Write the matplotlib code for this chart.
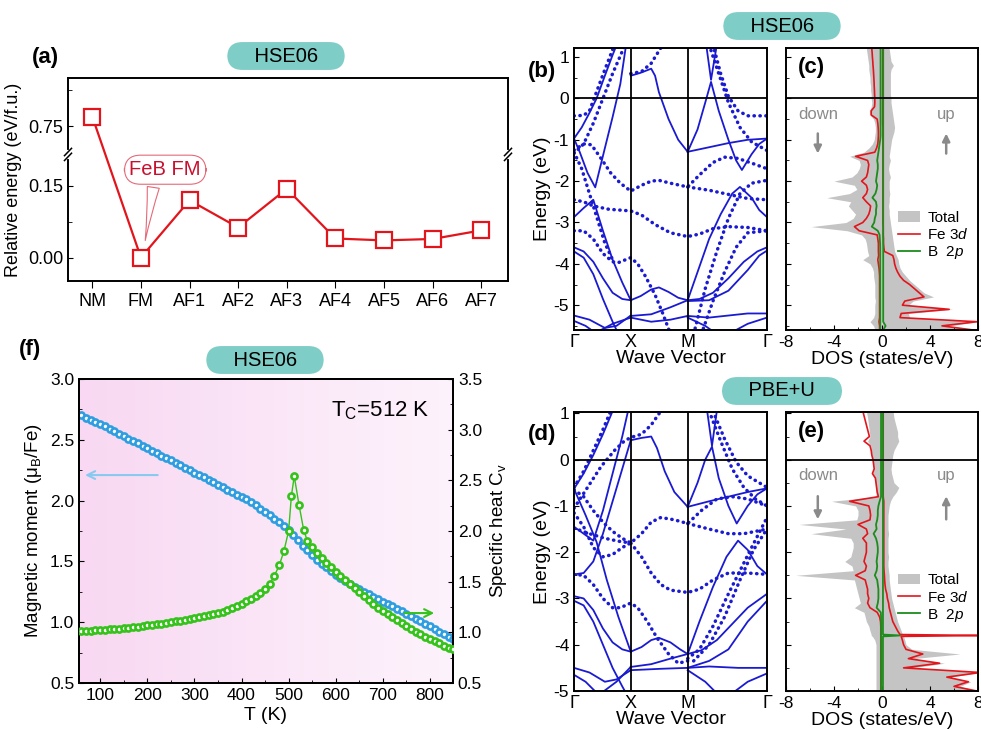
import numpy as np
import matplotlib
matplotlib.use('Agg')
import matplotlib.pyplot as plt
from matplotlib.ticker import MultipleLocator, FixedLocator
from matplotlib.patches import Patch
from matplotlib.lines import Line2D
from matplotlib.colors import LinearSegmentedColormap

plt.rcParams['font.family'] = ['Liberation Sans', 'DejaVu Sans']
plt.rcParams['mathtext.fontset'] = 'custom'
plt.rcParams['mathtext.rm'] = 'Liberation Sans'
plt.rcParams['mathtext.it'] = 'Liberation Sans:italic'
plt.rcParams['axes.unicode_minus'] = False
plt.rcParams['axes.linewidth'] = 1.4

# ---------------- (a) relative energies ----------------
configs = ['NM', 'FM', 'AF1', 'AF2', 'AF3', 'AF4', 'AF5', 'AF6', 'AF7']
rel_energy = [0.77, 0.0, 0.12, 0.063, 0.144, 0.040, 0.036, 0.039, 0.057]

# ---------------- (b)/(d) band structures (k as path fraction, E in eV) ----------------
k_nodes = [0.0, 0.294, 0.589, 1.0]
k_labels = ['Γ', 'X', 'M', 'Γ']

hse_solid = [
    [(0, -0.97), (0.04, -0.7), (0.08, -0.35), (0.117, 0.0), (0.16, 0.55), (0.20, 1.05), (0.23, 1.4)],
    [(0, -0.97), (0.03, -1.3), (0.07, -1.8), (0.11, -2.15), (0.16, -1.2), (0.20, -0.45), (0.24, 0.35), (0.27, 1.3)],
    [(0, -2.87), (0.05, -2.65), (0.10, -2.45), (0.15, -3.2), (0.20, -3.9), (0.25, -4.45), (0.294, -4.88)],
    [(0, -3.6), (0.05, -3.7), (0.10, -3.95), (0.15, -4.35), (0.20, -4.7), (0.25, -4.85), (0.294, -4.88)],
    [(0, -3.7), (0.05, -3.85), (0.10, -4.25), (0.15, -4.85), (0.20, -5.4), (0.23, -5.7)],
    [(0, -5.25), (0.08, -5.35), (0.16, -5.55), (0.22, -5.5), (0.294, -5.25)],
    [(0, -5.38), (0.06, -5.5), (0.12, -5.7)],
    [(0.10, -5.7), (0.20, -5.45), (0.294, -5.3)],
    [(0.294, 0.55), (0.345, 0.62), (0.40, 0.72), (0.42, 0.55), (0.44, 0.15), (0.49, -0.5), (0.54, -1.0), (0.589, -1.29)],
    [(0.294, -4.88), (0.345, -4.78), (0.40, -4.62), (0.44, -4.57), (0.49, -4.68), (0.54, -4.82), (0.589, -4.88)],
    [(0.294, -5.26), (0.40, -5.22), (0.50, -5.05), (0.589, -4.88)],
    [(0.294, -5.3), (0.40, -5.4), (0.50, -5.35), (0.589, -5.26)],
    [(0.589, -1.29), (0.64, -0.75), (0.68, -0.1), (0.71, 0.4), (0.75, -0.3), (0.80, -1.0), (0.84, -1.5),
     (0.87, -1.73), (0.92, -1.35), (0.96, -1.1), (1.0, -0.97)],
    [(0.685, 1.3), (0.71, 0.45), (0.74, 1.3)],
    [(0.589, -1.29), (0.70, -1.18), (0.80, -1.08), (0.90, -1.0), (1.0, -0.97)],
    [(0.589, -4.88), (0.64, -4.2), (0.70, -3.4), (0.76, -2.8), (0.82, -2.3), (0.86, -2.14), (0.92, -2.4),
     (0.96, -2.7), (1.0, -2.87)],
    [(0.589, -4.88), (0.65, -4.85), (0.72, -4.7), (0.80, -4.35), (0.88, -3.95), (0.95, -3.7), (1.0, -3.6)],
    [(0.589, -4.9), (0.70, -4.88), (0.80, -4.65), (0.90, -4.15), (0.96, -3.8), (1.0, -3.68)],
    [(0.589, -5.26), (0.70, -5.3), (0.80, -5.25), (0.90, -5.2), (1.0, -5.2)],
    [(0.589, -5.3), (0.68, -5.5), (0.74, -5.7)],
    [(0.80, -5.7), (0.90, -5.45), (1.0, -5.3)],
]
hse_dotted = [
    [(0, -0.42), (0.05, -0.41), (0.08, -0.3), (0.12, 0.2), (0.16, 0.7), (0.21, 1.3)],
    [(0, -1.33), (0.05, -1.1), (0.10, -0.6), (0.15, 0.0), (0.20, 0.6), (0.265, 1.3)],
    [(0, -1.25), (0.05, -1.1), (0.09, -1.12), (0.14, -1.45), (0.19, -1.8), (0.24, -2.05), (0.294, -2.24),
     (0.35, -2.1), (0.40, -2.0), (0.44, -1.98), (0.50, -2.05), (0.589, -2.14), (0.65, -1.85), (0.72, -1.55),
     (0.78, -1.42), (0.85, -1.45), (0.93, -1.58), (1.0, -1.7)],
    [(0, -2.45), (0.05, -2.5), (0.10, -2.6), (0.18, -2.68), (0.294, -2.72), (0.35, -2.82), (0.42, -3.05),
     (0.50, -3.25), (0.589, -3.34), (0.65, -3.28), (0.72, -3.15), (0.80, -3.1), (0.90, -3.12), (1.0, -3.2)],
    [(0, -3.2), (0.05, -3.2), (0.10, -3.4), (0.15, -3.75), (0.20, -3.95), (0.23, -3.97), (0.294, -3.85),
     (0.33, -4.0), (0.37, -4.3), (0.42, -4.75), (0.46, -5.2), (0.50, -5.7)],
    [(0, -1.3), (0.04, -1.7), (0.08, -2.3), (0.12, -2.9), (0.16, -3.5), (0.20, -3.9)],
    [(0.589, -2.14), (0.70, -2.22), (0.80, -2.32), (0.90, -2.42), (1.0, -2.45)],
    [(0.62, -5.7), (0.68, -4.6), (0.74, -3.7), (0.80, -2.9), (0.86, -2.3), (0.92, -2.05), (1.0, -1.98)],
    [(0.66, -5.7), (0.72, -4.9), (0.78, -4.2), (0.84, -3.6), (0.90, -3.25), (1.0, -3.2)],
    [(0.70, 1.3), (0.75, 0.6), (0.80, -0.1), (0.86, -0.7), (0.92, -1.05), (1.0, -1.26)],
    [(0.72, 1.3), (0.76, 0.6), (0.80, 0.05), (0.85, -0.3), (0.90, -0.42), (1.0, -0.42)],
    [(0.294, 0.6), (0.35, 0.65), (0.40, 0.85), (0.46, 1.3)],
]

pbe_solid = [
    [(0, -0.63), (0.05, -0.3), (0.10, 0.1), (0.15, 0.55), (0.20, 1.05)],
    [(0, -0.63), (0.06, -1.2), (0.117, -1.78), (0.17, -2.6), (0.23, -3.4), (0.294, -4.15)],
    [(0, -1.45), (0.05, -1.6), (0.10, -1.75), (0.15, -1.1), (0.20, -0.3), (0.25, 0.5), (0.28, 1.05)],
    [(0, -2.48), (0.05, -2.45), (0.10, -2.2), (0.15, -1.6), (0.20, -0.9), (0.25, -0.2), (0.294, 0.42)],
    [(0, -2.95), (0.05, -3.0), (0.10, -3.25), (0.15, -3.65), (0.20, -3.95), (0.25, -4.1), (0.294, -4.15)],
    [(0, -3.05), (0.05, -3.15), (0.10, -3.5), (0.15, -4.0), (0.20, -4.5), (0.25, -4.9), (0.27, -5.05)],
    [(0, -4.5), (0.08, -4.6), (0.16, -4.8), (0.22, -4.75), (0.294, -4.55)],
    [(0, -4.65), (0.06, -4.8), (0.12, -5.05)],
    [(0.14, -5.05), (0.22, -4.8), (0.294, -4.48)],
    [(0.294, 0.42), (0.35, 0.47), (0.40, 0.5), (0.43, 0.25), (0.47, -0.25), (0.52, -0.7), (0.589, -1.02)],
    [(0.294, -4.15), (0.35, -4.05), (0.40, -3.9), (0.44, -3.85), (0.50, -3.95), (0.55, -4.1), (0.589, -4.2)],
    [(0.294, -4.48), (0.40, -4.42), (0.50, -4.3), (0.589, -4.2)],
    [(0.294, -4.55), (0.45, -4.52), (0.589, -4.5)],
    [(0.589, -1.02), (0.64, -0.5), (0.68, 0.0), (0.715, 0.28), (0.75, -0.4), (0.80, -1.0), (0.843, -1.38),
     (0.90, -1.0), (0.95, -0.75), (1.0, -0.62)],
    [(0.69, 1.05), (0.715, 0.3), (0.74, 1.05)],
    [(0.589, -1.02), (0.70, -0.9), (0.80, -0.8), (0.90, -0.7), (1.0, -0.62)],
    [(0.589, -4.2), (0.65, -3.5), (0.72, -2.75), (0.79, -2.1), (0.85, -1.75), (0.90, -1.95), (0.95, -2.3),
     (1.0, -2.48)],
    [(0.589, -4.2), (0.66, -4.12), (0.74, -3.9), (0.82, -3.55), (0.90, -3.2), (1.0, -2.9)],
    [(0.589, -4.5), (0.70, -4.35), (0.80, -4.1), (0.90, -3.5), (1.0, -3.05)],
    [(0.589, -4.5), (0.70, -4.47), (0.85, -4.5), (1.0, -4.5)],
    [(0.589, -4.55), (0.68, -4.8), (0.74, -5.05)],
    [(0.82, -5.05), (0.90, -4.8), (1.0, -4.62)],
]
pbe_dotted = [
    [(0, -1.05), (0.07, -0.6), (0.14, -0.15), (0.21, 0.2), (0.26, 0.4), (0.294, 0.48), (0.35, 0.55),
     (0.40, 0.75), (0.45, 1.05)],
    [(0, -0.6), (0.05, -0.25), (0.10, 0.2), (0.15, 0.65), (0.19, 1.05)],
    [(0, -0.65), (0.05, -0.8), (0.10, -1.1), (0.15, -1.35), (0.20, -1.55), (0.25, -1.7), (0.294, -1.8),
     (0.35, -1.6), (0.40, -1.35), (0.45, -1.25), (0.52, -1.3), (0.589, -1.38), (0.66, -1.1), (0.74, -0.85),
     (0.82, -0.8), (0.90, -0.85), (1.0, -1.0)],
    [(0.589, -1.38), (0.70, -1.5), (0.80, -1.6), (0.88, -1.6), (1.0, -1.5)],
    [(0, -1.48), (0.08, -1.6), (0.16, -1.7), (0.24, -1.77), (0.294, -1.8), (0.35, -2.1), (0.40, -2.45),
     (0.45, -2.7), (0.50, -2.82), (0.589, -2.87), (0.65, -2.8), (0.72, -2.6), (0.80, -2.45), (0.90, -2.45),
     (1.0, -2.48)],
    [(0, -1.15), (0.05, -1.45), (0.10, -1.9), (0.15, -2.1), (0.20, -2.05), (0.25, -1.9), (0.294, -1.8)],
    [(0, -2.48), (0.05, -2.5), (0.10, -2.7), (0.15, -3.0), (0.20, -3.2), (0.24, -3.2), (0.294, -3.1),
     (0.33, -3.2), (0.38, -3.5), (0.43, -3.85), (0.49, -4.2), (0.54, -4.4), (0.589, -4.35)],
    [(0.589, -4.3), (0.65, -4.1), (0.72, -3.6), (0.80, -2.9), (0.86, -2.4), (0.92, -1.9), (1.0, -1.25)],
    [(0.62, -4.35), (0.70, -4.0), (0.78, -3.4), (0.86, -2.6), (0.93, -1.95), (1.0, -1.5)],
    [(0.72, 1.05), (0.78, 0.45), (0.84, -0.05), (0.90, -0.35), (1.0, -0.6)],
    [(0.70, 1.05), (0.76, 0.4), (0.82, -0.2), (0.88, -0.6), (0.94, -0.85), (1.0, -1.0)],
]

# ---------------- (c) DOS, HSE06 ----------------
dos_e_c = [1.3, 1.2, 1.1, 1.0, 0.9, 0.8, 0.7, 0.6, 0.5, 0.4,
           0.3, 0.2, 0.1, 0.0, -0.1, -0.2, -0.3, -0.4, -0.5, -0.6,
           -0.7, -0.8, -0.9, -1.0, -1.1, -1.2, -1.3, -1.4, -1.5, -1.6,
           -1.7, -1.8, -1.9, -2.0, -2.1, -2.2, -2.3, -2.4, -2.5, -2.6,
           -2.7, -2.8, -2.9, -3.0, -3.1, -3.2, -3.3, -3.4, -3.5, -3.6,
           -3.7, -3.8, -3.9, -4.0, -4.1, -4.2, -4.3, -4.4, -4.5, -4.6,
           -4.7, -4.8, -4.9, -5.0, -5.1, -5.2, -5.3, -5.4, -5.5, -5.6,
           -5.7]
tot_up_c = [0.6, 0.6, 0.65, 0.7, 0.75, 0.95, 0.75, 0.7, 0.7, 0.7,
            0.7, 0.7, 0.7, 0.75, 0.75, 0.8, 0.85, 0.9, 0.95, 1.0,
            1.05, 1.0, 0.9, 0.8, 0.75, 0.7, 0.65, 0.6, 0.7, 0.6,
            0.55, 0.6, 0.7, 0.6, 0.6, 0.6, 0.65, 0.6, 0.6, 0.55,
            0.6, 0.6, 0.65, 0.7, 0.75, 0.8, 0.85, 0.9, 0.95, 1.0,
            1.05, 1.2, 1.35, 1.4, 1.5, 1.7, 2.0, 2.3, 2.7, 3.1,
            3.5, 4.3, 2.6, 2.2, 5.9, 2.2, 2.3, 8.0, 5.6, 7.9,
            6.5]
tot_dn_c = [-1.3, -1.3, -1.25, -1.2, -1.15, -1.1, -1.1, -1.05, -1.0, -1.0,
            -0.95, -0.95, -0.9, -0.9, -0.85, -0.9, -1.05, -1.0, -0.7, -0.6,
            -0.55, -0.55, -0.6, -0.65, -0.8, -1.1, -1.5, -2.7, -1.9, -1.8,
            -1.9, -2.1, -2.5, -4.0, -2.3, -2.1, -2.7, -4.6, -2.6, -2.8,
            -2.5, -2.2, -2.4, -3.0, -5.9, -2.9, -1.7, -1.4, -1.3, -1.25,
            -1.2, -1.1, -1.6, -1.0, -0.8, -0.7, -0.7, -0.65, -0.6, -0.6,
            -0.6, -0.6, -0.55, -0.6, -0.6, -0.6, -0.7, -1.0, -0.7, -0.6,
            -0.6]
fe_up_c = [0.06, 0.06, 0.06, 0.06, 0.06, 0.06, 0.06, 0.06, 0.06, 0.06,
           0.06, 0.06, 0.06, 0.06, 0.06, 0.06, 0.06, 0.06, 0.06, 0.06,
           0.08, 0.08, 0.08, 0.08, 0.08, 0.08, 0.08, 0.08, 0.08, 0.08,
           0.08, 0.08, 0.08, 0.08, 0.08, 0.08, 0.08, 0.08, 0.08, 0.08,
           0.08, 0.08, 0.08, 0.08, 0.1, 0.1, 0.1, 0.12, 0.12, 0.15,
           0.2, 0.9, 1.0, 1.05, 1.15, 1.3, 1.5, 1.8, 2.3, 2.7,
           3.1, 3.5, 1.9, 1.7, 5.6, 1.6, 1.5, 7.9, 5.0, 7.6,
           5.5]
fe_dn_c = [-0.85, -0.85, -0.82, -0.8, -0.77, -0.75, -0.72, -0.7, -0.68, -0.66,
           -0.65, -0.63, -0.62, -0.6, -0.6, -0.62, -0.9, -0.9, -0.4, -0.35,
           -0.32, -0.3, -0.3, -0.32, -0.35, -0.45, -0.6, -2.2, -1.2, -1.1,
           -1.15, -1.2, -1.3, -1.7, -1.3, -1.2, -1.3, -1.6, -1.3, -0.95,
           -1.0, -1.1, -1.3, -1.6, -2.3, -1.9, -0.4, -0.35, -0.3, -0.3,
           -0.3, -0.28, -0.35, -0.3, -0.25, -0.22, -0.2, -0.2, -0.2, -0.2,
           -0.2, -0.2, -0.2, -0.2, -0.2, -0.2, -0.2, -0.25, -0.2, -0.2,
           -0.2]
b_up_c = [0.1, 0.1, 0.1, 0.1, 0.1, 0.1, 0.1, 0.1, 0.1, 0.1,
          0.1, 0.1, 0.1, 0.1, 0.1, 0.1, 0.1, 0.1, 0.1, 0.1,
          0.1, 0.1, 0.1, 0.1, 0.1, 0.1, 0.1, 0.1, 0.1, 0.1,
          0.1, 0.1, 0.1, 0.1, 0.1, 0.1, 0.1, 0.1, 0.1, 0.1,
          0.1, 0.1, 0.1, 0.1, 0.1, 0.1, 0.1, 0.1, 0.1, 0.1,
          0.1, 0.1, 0.1, 0.1, 0.1, 0.1, 0.1, 0.1, 0.1, 0.1,
          0.1, 0.1, 0.1, 0.1, 0.1, 0.1, 0.1, 0.1, 0.3, 0.1,
          0.1]
b_dn_c = [-0.12, -0.12, -0.12, -0.12, -0.12, -0.12, -0.12, -0.12, -0.12, -0.12,
          -0.12, -0.12, -0.12, -0.12, -0.12, -0.12, -0.12, -0.12, -0.12, -0.12,
          -0.12, -0.12, -0.12, -0.15, -0.2, -0.25, -0.3, -0.35, -0.4, -0.35,
          -0.35, -0.4, -0.45, -0.5, -0.4, -0.45, -0.55, -0.8, -0.5, -0.45,
          -0.5, -0.5, -0.6, -0.65, -0.85, -0.35, -0.2, -0.18, -0.16, -0.15,
          -0.15, -0.15, -0.15, -0.15, -0.15, -0.15, -0.15, -0.15, -0.15, -0.15,
          -0.15, -0.15, -0.15, -0.15, -0.15, -0.15, -0.15, -0.15, -0.15, -0.15,
          -0.15]

# ---------------- (e) DOS, PBE+U ----------------
dos_e_e = [1.1, 1.0, 0.9, 0.8, 0.7, 0.6, 0.5, 0.4, 0.3, 0.2,
           0.1, 0.0, -0.1, -0.2, -0.3, -0.4, -0.5, -0.6, -0.7, -0.8,
           -0.9, -1.0, -1.1, -1.2, -1.3, -1.4, -1.5, -1.6, -1.7, -1.8,
           -1.9, -2.0, -2.1, -2.2, -2.3, -2.4, -2.5, -2.6, -2.7, -2.8,
           -2.9, -3.0, -3.1, -3.2, -3.3, -3.4, -3.5, -3.6, -3.7, -3.78,
           -3.8, -3.82, -3.9, -4.0, -4.1, -4.2, -4.3, -4.4, -4.5, -4.6,
           -4.7, -4.8, -4.9, -5.0, -5.1]
tot_up_e = [0.9, 0.95, 1.0, 1.1, 1.2, 1.3, 1.3, 1.4, 1.2, 1.0,
            0.9, 0.85, 0.8, 0.75, 0.8, 0.9, 1.0, 1.4, 1.2, 0.9,
            0.7, 0.6, 0.55, 0.5, 0.5, 0.5, 0.5, 0.55, 0.5, 0.5,
            0.5, 0.5, 0.55, 0.5, 0.5, 0.55, 0.6, 0.6, 0.65, 0.7,
            0.75, 0.8, 0.9, 1.0, 1.1, 1.2, 1.3, 1.45, 1.6, 1.7,
            1.75, 1.8, 1.9, 2.0, 2.5, 6.5, 2.6, 5.2, 2.5, 8.2,
            5.6, 7.4, 6.5, 8.0, 7.0]
tot_dn_e = [-1.3, -1.27, -1.2, -1.15, -1.1, -1.05, -1.0, -1.2, -0.95, -0.9,
            -0.85, -0.75, -0.7, -0.65, -0.8, -0.6, -0.55, -0.55, -0.5, -0.5,
            -4.2, -2.2, -2.0, -2.0, -2.1, -6.9, -3.0, -5.9, -2.6, -2.4,
            -2.4, -2.5, -2.6, -3.1, -2.5, -2.4, -7.2, -2.3, -2.2, -2.1,
            -2.0, -1.9, -1.8, -2.3, -1.5, -1.4, -1.3, -1.1, -1.0, -0.9,
            -0.9, -0.8, -0.6, -0.5, -0.5, -0.5, -0.5, -0.5, -0.5, -0.5,
            -0.5, -0.5, -0.5, -0.5, -0.5]
fe_up_e = [0.1, 0.1, 0.1, 0.1, 0.1, 0.1, 0.1, 0.1, 0.1, 0.1,
           0.1, 0.1, 0.1, 0.1, 0.1, 0.1, 0.1, 0.1, 0.1, 0.1,
           0.15, 0.15, 0.15, 0.15, 0.15, 0.15, 0.15, 0.15, 0.15, 0.15,
           0.15, 0.15, 0.15, 0.15, 0.15, 0.17, 0.2, 0.22, 0.25, 0.3,
           0.4, 0.45, 0.55, 0.6, 0.7, 0.8, 0.9, 1.1, 1.3, 1.5,
           8.5, 1.6, 1.7, 1.8, 2.0, 3.4, 2.2, 4.8, 1.8, 8.2,
           5.4, 7.2, 6.0, 7.9, 6.5]
fe_dn_e = [-1.6, -1.55, -1.45, -1.35, -1.25, -1.15, -1.05, -1.5, -1.0, -0.9,
           -0.85, -0.75, -0.7, -0.65, -0.8, -0.55, -0.5, -0.45, -0.4, -0.3,
           -2.7, -1.1, -1.0, -0.95, -1.0, -2.0, -1.3, -1.2, -1.6, -1.3,
           -1.3, -1.3, -1.4, -1.5, -1.3, -1.4, -2.2, -1.4, -1.3, -1.2,
           -1.2, -1.1, -1.2, -1.0, -0.4, -0.2, -0.12, -0.1, -0.1, -0.1,
           -0.1, -0.1, -0.1, -0.1, -0.1, -0.1, -0.1, -0.1, -0.1, -0.1,
           -0.1, -0.1, -0.1, -0.1, -0.1]
b_up_e = [0.08, 0.08, 0.08, 0.08, 0.08, 0.08, 0.08, 0.08, 0.08, 0.08,
          0.08, 0.08, 0.08, 0.08, 0.08, 0.08, 0.08, 0.08, 0.08, 0.08,
          0.08, 0.08, 0.08, 0.08, 0.08, 0.08, 0.08, 0.08, 0.08, 0.08,
          0.08, 0.08, 0.08, 0.08, 0.08, 0.08, 0.08, 0.08, 0.08, 0.08,
          0.08, 0.08, 0.08, 0.08, 0.08, 0.08, 0.08, 0.08, 0.08, 0.08,
          1.5, 0.08, 0.08, 0.08, 0.08, 0.08, 0.08, 0.08, 0.08, 0.08,
          0.08, 0.08, 0.08, 0.08, 0.08]
b_dn_e = [-0.08, -0.08, -0.08, -0.08, -0.08, -0.08, -0.08, -0.08, -0.08, -0.08,
          -0.08, -0.08, -0.08, -0.08, -0.08, -0.08, -0.08, -0.08, -0.08, -0.08,
          -0.2, -0.3, -0.35, -0.35, -0.4, -0.5, -0.45, -0.7, -0.5, -0.4,
          -0.35, -0.35, -0.4, -0.45, -0.4, -0.45, -0.6, -0.4, -0.35, -0.3,
          -0.3, -0.3, -0.35, -0.45, -0.1, -0.08, -0.08, -0.08, -0.08, -0.08,
          -0.08, -0.08, -0.08, -0.08, -0.08, -0.08, -0.08, -0.08, -0.08, -0.08,
          -0.08, -0.08, -0.08, -0.08, -0.08]

# ---------------- (f) magnetic moment and specific heat ----------------
temp_m = list(range(60, 860, 10))
moment = [2.70, 2.68, 2.66, 2.645, 2.63, 2.61, 2.59, 2.57, 2.55, 2.53,
          2.51, 2.49, 2.47, 2.45, 2.43, 2.41, 2.39, 2.37, 2.35, 2.33,
          2.31, 2.29, 2.27, 2.25, 2.23, 2.21, 2.19, 2.17, 2.15, 2.13,
          2.11, 2.09, 2.07, 2.05, 2.03, 2.01, 1.985, 1.96, 1.935, 1.91,
          1.88, 1.85, 1.82, 1.79, 1.755, 1.72, 1.68, 1.63, 1.59, 1.55,
          1.515, 1.48, 1.45, 1.42, 1.39, 1.365, 1.34, 1.315, 1.29, 1.27,
          1.25, 1.23, 1.21, 1.19, 1.17, 1.15, 1.13, 1.11, 1.09, 1.07,
          1.05, 1.03, 1.01, 0.985, 0.965, 0.94, 0.92, 0.90, 0.88, 0.86]
temp_c = list(range(60, 490, 10)) + [490, 500, 506, 512, 522, 532, 540] + list(range(550, 860, 10))
heat = [1.012, 1.015, 1.017, 1.02, 1.023, 1.026, 1.03, 1.033, 1.037, 1.04,
        1.045, 1.05, 1.055, 1.06, 1.07, 1.075, 1.08, 1.087, 1.093, 1.10,
        1.107, 1.115, 1.123, 1.132, 1.14, 1.15, 1.16, 1.17, 1.18, 1.19,
        1.205, 1.22, 1.24, 1.26, 1.28, 1.305, 1.33, 1.36, 1.39, 1.43,
        1.48, 1.56, 1.66,
        1.80, 2.00, 2.35, 2.54, 2.26, 2.01, 1.90,
        1.84, 1.78, 1.73, 1.68, 1.64, 1.60, 1.56, 1.52, 1.48, 1.44,
        1.40, 1.36, 1.32, 1.28, 1.245, 1.21, 1.18, 1.15, 1.12, 1.09,
        1.06, 1.03, 1.005, 0.98, 0.955, 0.93, 0.91, 0.89, 0.87, 0.85, 0.835]

# colours
red = '#e3151c'
band_blue = '#1a1ad2'
gray_fill = '#c4c4c4'
b_green = '#1c8c1c'
pill_col = '#7fcdc7'
W, H = 981, 729


def fig_rect(x0, y0, x1, y1):
    return [x0 / W, 1 - y1 / H, (x1 - x0) / W, (y1 - y0) / H]


def pill(fig, x, y, text):
    fig.text(x / W, 1 - y / H, '    ' + text + '    ', ha='center', va='center', fontsize=14.5,
             bbox=dict(boxstyle='round,pad=0.22,rounding_size=0.75', fc=pill_col, ec='none'))


fig = plt.figure(figsize=(W / 100, H / 100), dpi=100)


# ---- (a) ----
def brk_fwd(v):
    v = np.asarray(v, float)
    return np.where(v > 0.45, v - 0.475, np.minimum(v, 0.216))


def brk_inv(w):
    w = np.asarray(w, float)
    return np.where(w > 0.216, w + 0.475, w)


axa = fig.add_axes(fig_rect(68, 78, 508, 281))
axa.set_yscale('function', functions=(brk_fwd, brk_inv))
xa = np.arange(len(configs))
axa.plot(xa, rel_energy, '-s', color=red, lw=1.6, ms=11, mfc='white', mec=red, mew=1.6, zorder=3)
axa.set_xlim(-0.5, 8.55)
axa.set_ylim(-0.049, 0.851)
axa.set_xticks(xa)
axa.set_xticklabels(configs)
axa.set_yticks([0.0, 0.15, 0.75])
axa.set_yticklabels(['0.00', '0.15', '0.75'])
axa.yaxis.set_minor_locator(FixedLocator([0.075, 0.825]))
axa.tick_params(axis='y', which='both', direction='in', labelsize=13)
axa.tick_params(axis='y', which='minor', length=3)
axa.tick_params(axis='x', direction='out', labelsize=13, length=5)
axa.set_ylabel('Relative energy (eV/f.u.)', fontsize=13)
axa.annotate('FeB FM', xy=(1.08, 0.03), xytext=(1.5, 0.184), ha='center', va='center',
             color='#c8102e', fontsize=14.5,
             bbox=dict(boxstyle='round,pad=0.25,rounding_size=0.8', fc='white', ec='#e46a78', lw=0.8),
             arrowprops=dict(arrowstyle='wedge,tail_width=0.6,shrink_factor=0.4', fc='white',
                             ec='#e46a78', lw=0.8, relpos=(0.35, 0.0)))
brk = 0.6235
for xs in (0.0, 1.0):
    axa.plot([xs, xs], [brk - 0.012, brk + 0.012], color='white', lw=3, transform=axa.transAxes,
             clip_on=False, zorder=6)
    for dy in (-0.012, 0.012):
        axa.plot([xs - 0.008, xs + 0.008], [brk + dy - 0.018, brk + dy + 0.018], color='k', lw=1.1,
                 transform=axa.transAxes, clip_on=False, zorder=7)
fig.text(45 / W, 1 - 57 / H, '(a)', fontsize=16, fontweight='bold', ha='center', va='center')
pill(fig, 286, 56, 'HSE06')


# ---- (b), (d) ----
def draw_bands(ax, solid, dotted, ylim):
    for band in solid:
        k, e = zip(*band)
        ax.plot(k, e, color=band_blue, lw=1.3)
    for band in dotted:
        k, e = zip(*band)
        ax.plot(k, e, color=band_blue, lw=2.5, ls=(0, (0.1, 1.6)), dash_capstyle='round')
    for kv in k_nodes[1:-1]:
        ax.axvline(kv, color='k', lw=1.3)
    ax.axhline(0, color='k', lw=1.3)
    ax.set_xlim(0, 1)
    ax.set_ylim(*ylim)
    ax.set_xticks(k_nodes)
    ax.set_xticklabels(k_labels)
    ax.tick_params(axis='x', length=0, labelsize=13, pad=3)
    ax.yaxis.set_major_locator(MultipleLocator(1))
    ax.yaxis.set_minor_locator(MultipleLocator(0.5))
    ax.tick_params(axis='y', which='both', direction='in', labelsize=12.5)
    ax.tick_params(axis='y', which='minor', length=2.5)
    ax.set_ylabel('Energy (eV)', fontsize=14, labelpad=2)
    ax.set_xlabel('Wave Vector', fontsize=14, labelpad=-1)


axb = fig.add_axes(fig_rect(574, 48, 767, 330))
draw_bands(axb, hse_solid, hse_dotted, (-5.6, 1.22))
fig.text(542 / W, 1 - 71 / H, '(b)', fontsize=16, fontweight='bold', ha='center', va='center')

axd = fig.add_axes(fig_rect(574, 412, 767, 691))
draw_bands(axd, pbe_solid, pbe_dotted, (-5.0, 1.03))
fig.text(542 / W, 1 - 435 / H, '(d)', fontsize=16, fontweight='bold', ha='center', va='center')


# ---- (c), (e) ----
def draw_dos(ax, e, tu, td, fu, fd, bu, bd, ylim, label, yspin):
    ax.fill_betweenx(e, 0, tu, color=gray_fill, lw=0)
    ax.fill_betweenx(e, 0, td, color=gray_fill, lw=0)
    ax.plot(fu, e, color=red, lw=1.2)
    ax.plot(fd, e, color=red, lw=1.2)
    ax.plot(bu, e, color=b_green, lw=1.3)
    ax.plot(bd, e, color=b_green, lw=1.3)
    ax.axhline(0, color='k', lw=1.3)
    ax.set_xlim(-8, 8)
    ax.set_ylim(*ylim)
    ax.xaxis.set_major_locator(MultipleLocator(4))
    ax.xaxis.set_minor_locator(MultipleLocator(2))
    ax.yaxis.set_major_locator(MultipleLocator(1))
    ax.yaxis.set_minor_locator(MultipleLocator(0.5))
    ax.tick_params(which='both', direction='in', labelsize=12.5)
    ax.tick_params(which='minor', length=2.5)
    ax.tick_params(axis='y', labelleft=False)
    ax.set_xlabel('DOS (states/eV)', fontsize=14, labelpad=1)
    ax.text(0.06, 0.93, label, transform=ax.transAxes, fontsize=16, fontweight='bold',
            ha='left', va='center')
    ax.text(-5.35, yspin, 'down', color='#8a8a8a', fontsize=12, ha='center', va='center')
    ax.text(5.35, yspin, 'up', color='#8a8a8a', fontsize=12, ha='center', va='center')
    ax.annotate('', xy=(-5.35, yspin - 1.0), xytext=(-5.35, yspin - 0.38),
                arrowprops=dict(arrowstyle='-|>', color='#8a8a8a', lw=1.8, mutation_scale=11))
    ax.annotate('', xy=(5.35, yspin - 0.38), xytext=(5.35, yspin - 1.0),
                arrowprops=dict(arrowstyle='-|>', color='#8a8a8a', lw=1.8, mutation_scale=11))
    handles = [Patch(facecolor=gray_fill, edgecolor='none'),
               Line2D([], [], color=red, lw=1.2),
               Line2D([], [], color=b_green, lw=1.3)]
    ax.legend(handles, ['Total', 'Fe 3$\\it{d}$', 'B  2$\\it{p}$'], loc='upper right',
              bbox_to_anchor=(1.0, 0.455), frameon=False, fontsize=11, handlelength=1.4,
              handletextpad=0.5, labelspacing=0.15, borderaxespad=0.2)


axc = fig.add_axes(fig_rect(786, 48, 978, 330))
draw_dos(axc, dos_e_c, tot_up_c, tot_dn_c, fe_up_c, fe_dn_c, b_up_c, b_dn_c, (-5.6, 1.22), '(c)', -0.4)
pill(fig, 782, 26, 'HSE06')

axe = fig.add_axes(fig_rect(786, 412, 978, 691))
draw_dos(axe, dos_e_e, tot_up_e, tot_dn_e, fe_up_e, fe_dn_e, b_up_e, b_dn_e, (-5.0, 1.03), '(e)', -0.35)
pill(fig, 782, 391, 'PBE+U')

# ---- (f) ----
axf = fig.add_axes(fig_rect(79, 379, 453, 683))
grad = np.linspace(0, 1, 256).reshape(1, -1)
pink = LinearSegmentedColormap.from_list('pink_bg', ['#f8d8f2', '#fdf3fc'])
axf.imshow(grad, cmap=pink, aspect='auto', extent=(0, 1, 0, 1), transform=axf.transAxes, zorder=0)
axf.plot(temp_m, moment, '-o', color='#2e9ee0', lw=1.0, ms=4.4, mfc='white', mec='#2e9ee0', mew=1.9,
         zorder=3)
axf.set_xlim(55, 849)
axf.set_ylim(0.5, 3.0)
axf.xaxis.set_major_locator(MultipleLocator(100))
axf.xaxis.set_minor_locator(MultipleLocator(50))
axf.yaxis.set_major_locator(MultipleLocator(0.5))
axf.yaxis.set_minor_locator(MultipleLocator(0.25))
axf.tick_params(which='both', direction='in', labelsize=12.5)
axf.tick_params(which='minor', length=2.5)
axf.set_xlabel('T (K)', fontsize=14, labelpad=3)
axf.set_ylabel('Magnetic moment (μ$_\\mathrm{B}$/Fe)', fontsize=13.5, labelpad=4)
axf.annotate('', xy=(62, 2.21), xytext=(228, 2.21),
             arrowprops=dict(arrowstyle='->', color='#88c9f0', lw=1.5, mutation_scale=14))
axf.text(590, 2.74, 'T$_\\mathrm{C}$=512 K', fontsize=16, ha='left', va='center')

axf2 = axf.twinx()
axf2.plot(temp_c, heat, '-o', color='#35c21a', lw=1.0, ms=4.4, mfc='white', mec='#35c21a', mew=1.9,
          zorder=3)
axf2.set_ylim(0.5, 3.5)
axf2.yaxis.set_major_locator(MultipleLocator(0.5))
axf2.yaxis.set_minor_locator(MultipleLocator(0.25))
axf2.tick_params(which='both', direction='in', labelsize=12.5)
axf2.tick_params(which='minor', length=2.5)
axf2.set_ylabel('Specific heat C$_\\mathrm{v}$', fontsize=13.5, labelpad=4)
axf2.annotate('', xy=(815, 1.19), xytext=(740, 1.19),
              arrowprops=dict(arrowstyle='->', color='#35c21a', lw=1.5, mutation_scale=14))
fig.text(30 / W, 1 - 350 / H, '(f)', fontsize=16, fontweight='bold', ha='center', va='center')
pill(fig, 265, 360, 'HSE06')

fig.savefig('out.png', dpi=100)
